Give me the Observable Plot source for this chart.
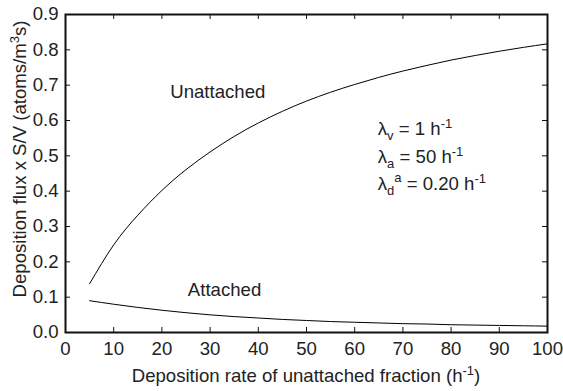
<!DOCTYPE html>
<html>
<head>
<meta charset="utf-8">
<script src="https://cdn.jsdelivr.net/npm/d3@7"></script>
<script src="https://cdn.jsdelivr.net/npm/@observablehq/plot@0.6"></script>
<style>
  html, body { margin: 0; padding: 0; background: #fff; }
  #chart svg { display: block; }
</style>
</head>
<body>
<div id="chart"></div>
<script>
// ---- data ----
const depositionRate = [5, 10, 15, 20, 25, 30, 35, 40, 45, 50, 55, 60, 65, 70, 75, 80, 85, 90, 95, 100];
const unattachedFlux = [0.138, 0.248, 0.332, 0.402, 0.461, 0.511, 0.555, 0.593, 0.626, 0.655, 0.680, 0.702, 0.722, 0.740, 0.756, 0.771, 0.784, 0.796, 0.807, 0.817];
const attachedFlux   = [0.090, 0.080, 0.071, 0.063, 0.056, 0.050, 0.045, 0.041, 0.037, 0.034, 0.031, 0.029, 0.027, 0.025, 0.024, 0.022, 0.021, 0.020, 0.019, 0.018];
const xTicks = [0, 10, 20, 30, 40, 50, 60, 70, 80, 90, 100];
const yTicks = [0.0, 0.1, 0.2, 0.3, 0.4, 0.5, 0.6, 0.7, 0.8, 0.9];
const seriesNames = ["Unattached", "Attached"];
const seriesLabelX = [31.6, 33.0];
const seriesLabelY = [0.681, 0.119];
const paramSub = ["v", "a", "d"];
const paramSup = ["", "", "a"];
const paramValue = ["1", "50", "0.20"];
const paramX = 64.9;
const paramY = [0.558, 0.479, 0.402];
const xTitle = "Deposition rate of unattached fraction (h";
const yTitle = "Deposition flux x S/V (atoms/m";

// ---- tables ----
const unattached = depositionRate.map((x, i) => ({x, y: unattachedFlux[i]}));
const attached = depositionRate.map((x, i) => ({x, y: attachedFlux[i]}));
const seriesLabels = seriesNames.map((t, i) => ({t, x: seriesLabelX[i], y: seriesLabelY[i]}));

const W = 563, H = 391;
const mL = 65, mR = 16, mT = 14, mB = 59;
const innerW = W - mL - mR, innerH = H - mT - mB;
const tickLen = 5;
const font = "'Liberation Sans', Arial, Helvetica, sans-serif";
const textColor = "#222";
const fs = 18.6;

const plot = Plot.plot({
  width: W, height: H,
  marginLeft: mL, marginRight: mR, marginTop: mT, marginBottom: mB,
  style: {fontFamily: font, fontSize: fs + "px", color: textColor, background: "#fff"},
  x: {domain: [0, 100]},
  y: {domain: [0, 0.9]},
  marks: [
    // inward ticks on all four sides
    Plot.tickX(xTicks, {x: d => d, insetTop: innerH - tickLen, stroke: "#111", strokeWidth: 1}),
    Plot.tickX(xTicks, {x: d => d, insetBottom: innerH - tickLen, stroke: "#111", strokeWidth: 1}),
    Plot.tickY(yTicks, {y: d => d, insetRight: innerW - tickLen, stroke: "#111", strokeWidth: 1}),
    Plot.tickY(yTicks, {y: d => d, insetLeft: innerW - tickLen, stroke: "#111", strokeWidth: 1}),
    Plot.line(unattached, {x: "x", y: "y", stroke: "#000", strokeWidth: 1, curve: "natural"}),
    Plot.line(attached, {x: "x", y: "y", stroke: "#000", strokeWidth: 1, curve: "natural"}),
    Plot.text(seriesLabels, {x: "x", y: "y", text: "t", fontSize: fs, fill: textColor}),
    Plot.axisX({ticks: xTicks, tickSize: 0, tickPadding: 9, label: null, fontSize: fs, fill: textColor}),
    Plot.axisY({ticks: yTicks, tickSize: 0, tickPadding: 7, label: null, fontSize: fs, fill: textColor, tickFormat: d3.format(".1f")}),
    Plot.frame({stroke: "#111", strokeWidth: 2})
  ]
});

document.getElementById("chart").appendChild(plot);

const svg = d3.select(plot);
const xs = plot.scale("x"), ys = plot.scale("y");
const sx = v => xs.apply ? xs.apply(v) : mL + (v - xs.domain[0]) / (xs.domain[1] - xs.domain[0]) * innerW;
const sy = v => ys.apply ? ys.apply(v) : mT + innerH - (v - ys.domain[0]) / (ys.domain[1] - ys.domain[0]) * innerH;

// parameter annotations with sub/superscripts
paramSub.forEach((sub, i) => {
  const t = svg.append("text")
    .attr("x", sx(paramX)).attr("y", sy(paramY[i]))
    .attr("text-anchor", "start")
    .attr("font-family", font).attr("font-size", fs).attr("fill", textColor);
  t.append("tspan").text("λ");
  t.append("tspan").attr("font-size", 13).attr("dy", 5).text(sub);
  let shift = 5;
  if (paramSup[i]) {
    t.append("tspan").attr("font-size", 13).attr("dy", -13).text(paramSup[i]);
    shift = -8;
  }
  t.append("tspan").attr("dy", -shift).text(" = " + paramValue[i] + " h");
  t.append("tspan").attr("font-size", 13).attr("dy", -7).text("-1");
});

// x axis title
const xt = svg.append("text")
  .attr("x", mL + innerW / 2).attr("y", 382)
  .attr("text-anchor", "middle")
  .attr("font-family", font).attr("font-size", fs).attr("fill", textColor);
xt.append("tspan").text(xTitle);
xt.append("tspan").attr("font-size", 13).attr("dy", -7).text("-1");
xt.append("tspan").attr("dy", 7).text(")");

// y axis title
const yt = svg.append("text")
  .attr("transform", `translate(26, ${159}) rotate(-90)`)
  .attr("text-anchor", "middle")
  .attr("font-family", font).attr("font-size", fs).attr("fill", textColor);
yt.append("tspan").text(yTitle);
yt.append("tspan").attr("font-size", 13).attr("dy", -7).text("3");
yt.append("tspan").attr("dy", 7).text("s)");
</script>
</body>
</html>
